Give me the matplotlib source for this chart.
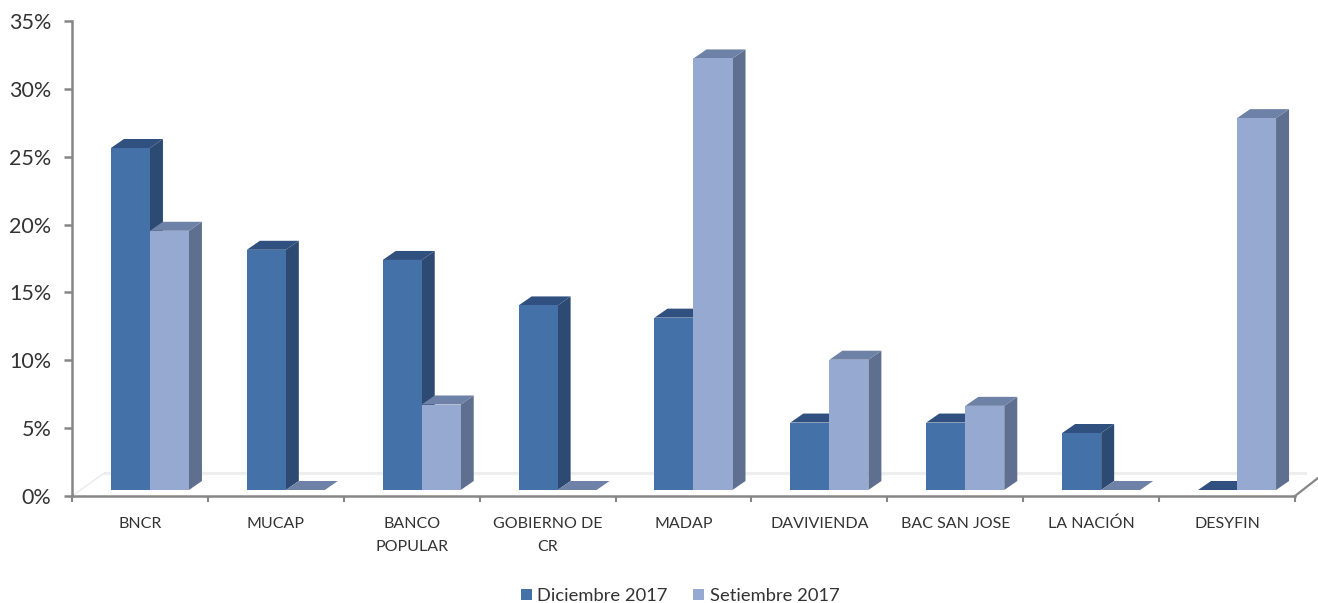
import matplotlib
matplotlib.use('Agg')
import matplotlib.pyplot as plt
from matplotlib.patches import Polygon, Patch

plt.rcParams['font.family'] = ['Lato', 'DejaVu Sans']

# Data
categories = ['BNCR', 'MUCAP', 'BANCO\nPOPULAR', 'GOBIERNO DE\nCR', 'MADAP',
              'DAVIVIENDA', 'BAC SAN JOSE', 'LA NACIÓN', 'DESYFIN']
dic_2017 = [25.2, 17.7, 16.95, 13.6, 12.7, 4.97, 4.97, 4.2, 0]
set_2017 = [19.1, 0, 6.3, 0, 31.8, 9.6, 6.2, 0, 27.4]
y_ticks = [0, 5, 10, 15, 20, 25, 30, 35]

W, H = 1318, 603
AX_L, AX_R, AX_T, AX_B = 72, 1295, 21, 496
px_x = 9 / (AX_R - AX_L)
px_y = 35 / (AX_B - AX_T)

bar_w = 39 * px_x
shift_x, shift_y = 10 * px_x, 6 * px_y    # front plane offset from the axis
depth_x, depth_y = 13 * px_x, 9 * px_y    # fake 3D depth

dark = ('#4472A8', '#2D4A73', '#30507F')
light = ('#95A9D1', '#5F6F8F', '#6E81A6')

fig = plt.figure(figsize=(W / 100, H / 100), dpi=100)
ax = fig.add_axes([AX_L / W, 1 - AX_B / H, (AX_R - AX_L) / W, (AX_B - AX_T) / H])
ax.set_xlim(0, 9)
ax.set_ylim(0, 35)


def draw_bar(x0, val, cols, z):
    x1 = x0 + bar_w
    y0 = shift_y
    y1 = val + shift_y
    front, side, top = cols
    if val > 0:
        ax.add_patch(Polygon([(x1, y0), (x1 + depth_x, y0 + depth_y),
                              (x1 + depth_x, y1 + depth_y), (x1, y1)],
                             fc=side, ec='none', zorder=z, clip_on=False))
    ax.add_patch(Polygon([(x0, y1), (x1, y1), (x1 + depth_x, y1 + depth_y),
                          (x0 + depth_x, y1 + depth_y)],
                         fc=top, ec='none', zorder=z, clip_on=False))
    if val > 0:
        ax.add_patch(Polygon([(x0, y0), (x1, y0), (x1, y1), (x0, y1)],
                             fc=front, ec='none', zorder=z + 0.1, clip_on=False))


# floor of the 3D box
ax.plot([33 * px_x, 9 + 10 * px_x], [23.5 * px_y, 23.5 * px_y], color='#EEEEEE', lw=2.2,
        zorder=1, clip_on=False)
ax.plot([0, 33 * px_x], [0, 23.5 * px_y], color='#E6E6E6', lw=0.8, zorder=1, clip_on=False)
ax.plot([9, 9 + 23 * px_x], [0, 18 * px_y], color='#868686', lw=1.6, zorder=1, clip_on=False)

for i in range(len(categories)):
    center = i + 0.5 + shift_x
    draw_bar(center - bar_w, dic_2017[i], dark, 3 + i)
    draw_bar(center, set_2017[i], light, 3.5 + i)

for s in ['top', 'right']:
    ax.spines[s].set_visible(False)
for s in ['left', 'bottom']:
    ax.spines[s].set_color('#868686')
    ax.spines[s].set_linewidth(1.8)

ax.set_yticks(y_ticks)
ax.set_yticklabels([f'{v}%' for v in y_ticks], fontsize=15.5, color='#333333')
ax.tick_params(axis='y', length=5.5, width=1.8, color='#868686', pad=9.5)

ax.set_xticks(range(10))
ax.set_xticklabels([])
ax.tick_params(axis='x', which='major', length=4.5, width=1.5, color='#868686')

# category labels, baseline of the first line kept level across the axis
for i, name in enumerate(categories):
    lines = name.count('\n')
    ax.annotate(name, xy=(i + 0.5, 0), xycoords=ax.get_xaxis_transform(),
                xytext=(0, -(32 + 23 * lines) * 0.72), textcoords='offset points',
                ha='center', va='baseline', multialignment='center',
                fontsize=11.5, color='#333333', linespacing=1.8)

handles = [Patch(fc=dark[0], label='Diciembre 2017'), Patch(fc=light[0], label='Setiembre 2017')]
fig.legend(handles=handles, loc='center', bbox_to_anchor=(680 / W, 1 - 596 / H), ncol=2,
           frameon=False, fontsize=13.2, labelcolor='#333333', handlelength=0.6, handleheight=0.6,
           handletextpad=0.3, columnspacing=1.4)

fig.savefig('out.png', dpi=100)
